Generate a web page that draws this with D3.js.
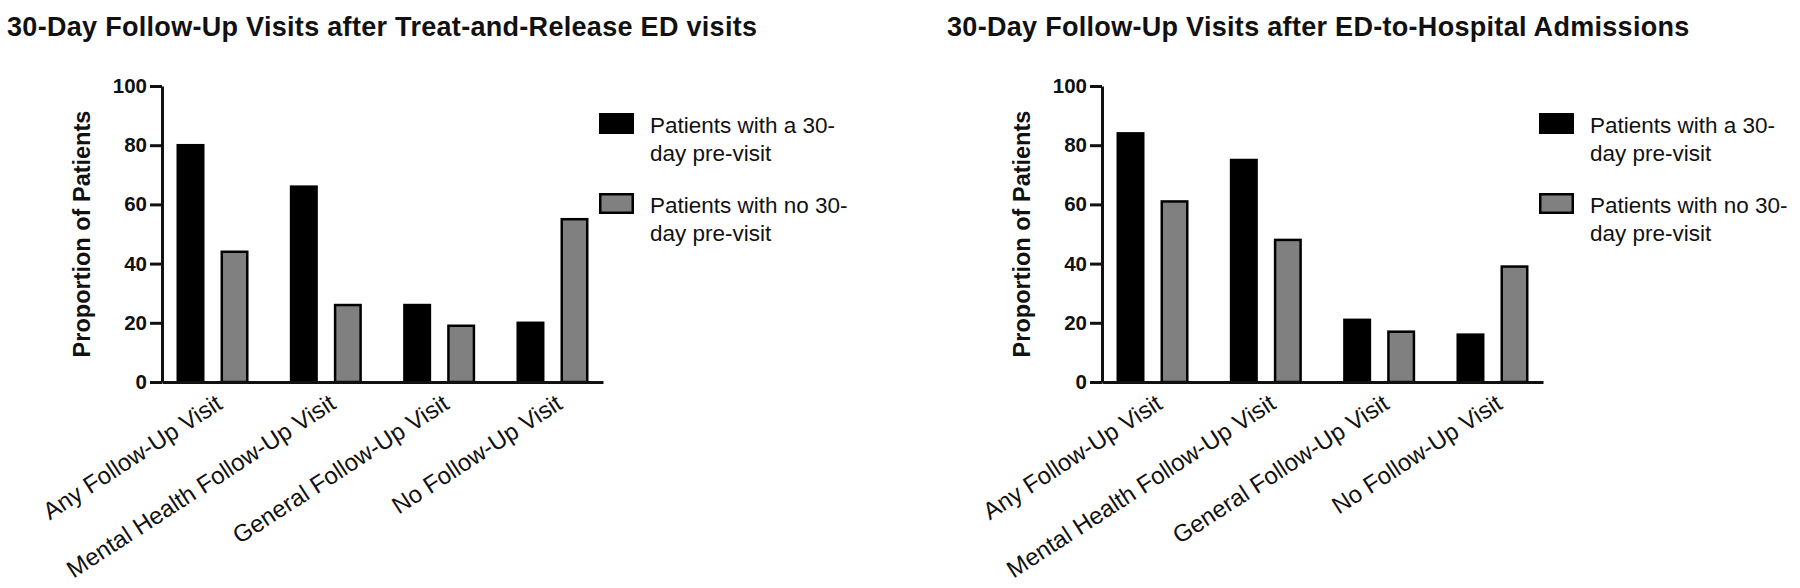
<!DOCTYPE html>
<html>
<head>
<meta charset="utf-8">
<script src="https://cdn.jsdelivr.net/npm/d3@7"></script>
<style>
  body{margin:0;background:#fff;}
  text{font-family:"Liberation Sans",Arial,sans-serif;fill:#111;}
</style>
</head>
<body>
<svg id="chart" width="1800" height="588"></svg>
<script>
// categories shared by both panels
var categories=["Any Follow-Up Visit","Mental Health Follow-Up Visit","General Follow-Up Visit","No Follow-Up Visit"];
var seriesKeys=["pre","noPre"];
var legendLines=[["Patients with a 30-","day pre-visit"],["Patients with no 30-","day pre-visit"]];
var yTicks=[0,20,40,60,80,100];

// left panel: treat-and-release
var treatReleaseTitle="30-Day Follow-Up Visits after Treat-and-Release ED visits";
var treatReleasePre=[80,66,26,20];
var treatReleaseNoPre=[44,26,19,55];

// right panel: admissions
var admissionTitle="30-Day Follow-Up Visits after ED-to-Hospital Admissions";
var admissionPre=[84,75,21,16];
var admissionNoPre=[61,48,17,39];

var colors={pre:"#000000",noPre:"#808080"};

var svg=d3.select("#chart");

function drawPanel(offsetX,title,pre,noPre){
    var g=svg.append("g").attr("transform","translate("+offsetX+",0)");
    var x0=162,x1=603,yTop=86,yBot=382;

    var x=d3.scaleBand().domain(categories).range([x0,x1]).paddingInner(0.3645).paddingOuter(0.128);
    var xs=d3.scaleBand().domain(seriesKeys).range([0,x.bandwidth()]).paddingInner(0.364).paddingOuter(0);
    var y=d3.scaleLinear().domain([0,100]).range([yBot,yTop]);

    g.append("text").attr("x",7).attr("y",36)
        .style("font-size","27px").style("font-weight","bold").style("letter-spacing","0.3px")
        .text(title);

    var rows=categories.map(function(c,i){return {cat:c,pre:pre[i],noPre:noPre[i]};});
    var groups=g.selectAll("g.grp").data(rows).enter().append("g").attr("class","grp")
        .attr("transform",function(d){return "translate("+x(d.cat)+",0)";});
    var sw=2.5;
    groups.selectAll("rect").data(function(d){
        return seriesKeys.map(function(k){return {key:k,value:d[k]};});
    }).enter().append("rect")
        .attr("x",function(d){return xs(d.key)+sw/2;})
        .attr("width",xs.bandwidth()-sw)
        .attr("y",function(d){return y(d.value);})
        .attr("height",function(d){return yBot-y(d.value);})
        .attr("fill",function(d){return colors[d.key];})
        .attr("stroke","#000").attr("stroke-width",sw);

    // y axis
    var ya=g.append("g").attr("transform","translate("+x0+",0)")
        .call(d3.axisLeft(y).tickValues(yTicks).tickSize(12).tickSizeOuter(0).tickPadding(3));
    ya.select(".domain").attr("stroke","#111").attr("stroke-width",3);
    ya.selectAll(".tick line").attr("stroke","#111").attr("stroke-width",3);
    ya.selectAll(".tick text").style("font-size","20.5px").style("font-weight","bold").attr("fill","#111");

    // x axis line
    var xa=g.append("g").attr("transform","translate(0,"+yBot+")")
        .call(d3.axisBottom(x).tickSize(0).tickSizeOuter(0).tickFormat(""));
    xa.select(".domain").attr("stroke","#111").attr("stroke-width",3);

    g.selectAll("text.xlab").data(categories).enter().append("text").attr("class","xlab")
        .attr("text-anchor","end")
        .attr("dy","0.72em")
        .attr("transform",function(d){return "translate("+(x(d)+x.bandwidth()/2+2)+",393) rotate(-33)";})
        .style("font-size","24px")
        .text(function(d){return d;});

    g.append("text")
        .attr("transform","translate(90,"+((yTop+yBot)/2)+") rotate(-90)")
        .attr("text-anchor","middle")
        .style("font-size","23.5px").style("font-weight","bold")
        .text("Proportion of Patients");

    // legend
    var lg=g.append("g").attr("transform","translate("+(x0+437)+",113)");
    var items=lg.selectAll("g").data(seriesKeys).enter().append("g")
        .attr("transform",function(d,i){return "translate(0,"+(i*80)+")";});
    items.append("rect").attr("x",1.25).attr("y",1.25).attr("width",32.5).attr("height",18.5)
        .attr("fill",function(d){return colors[d];}).attr("stroke","#000").attr("stroke-width",2.5);
    items.append("text").attr("x",51).attr("y",20)
        .style("font-size","22.5px")
        .selectAll("tspan").data(function(d,i){return legendLines[i];}).enter().append("tspan")
        .attr("x",51).attr("dy",function(d,i){return i?28:0;})
        .text(function(d){return d;});
}

drawPanel(0,treatReleaseTitle,treatReleasePre,treatReleaseNoPre);
drawPanel(940,admissionTitle,admissionPre,admissionNoPre);
</script>
</body>
</html>
